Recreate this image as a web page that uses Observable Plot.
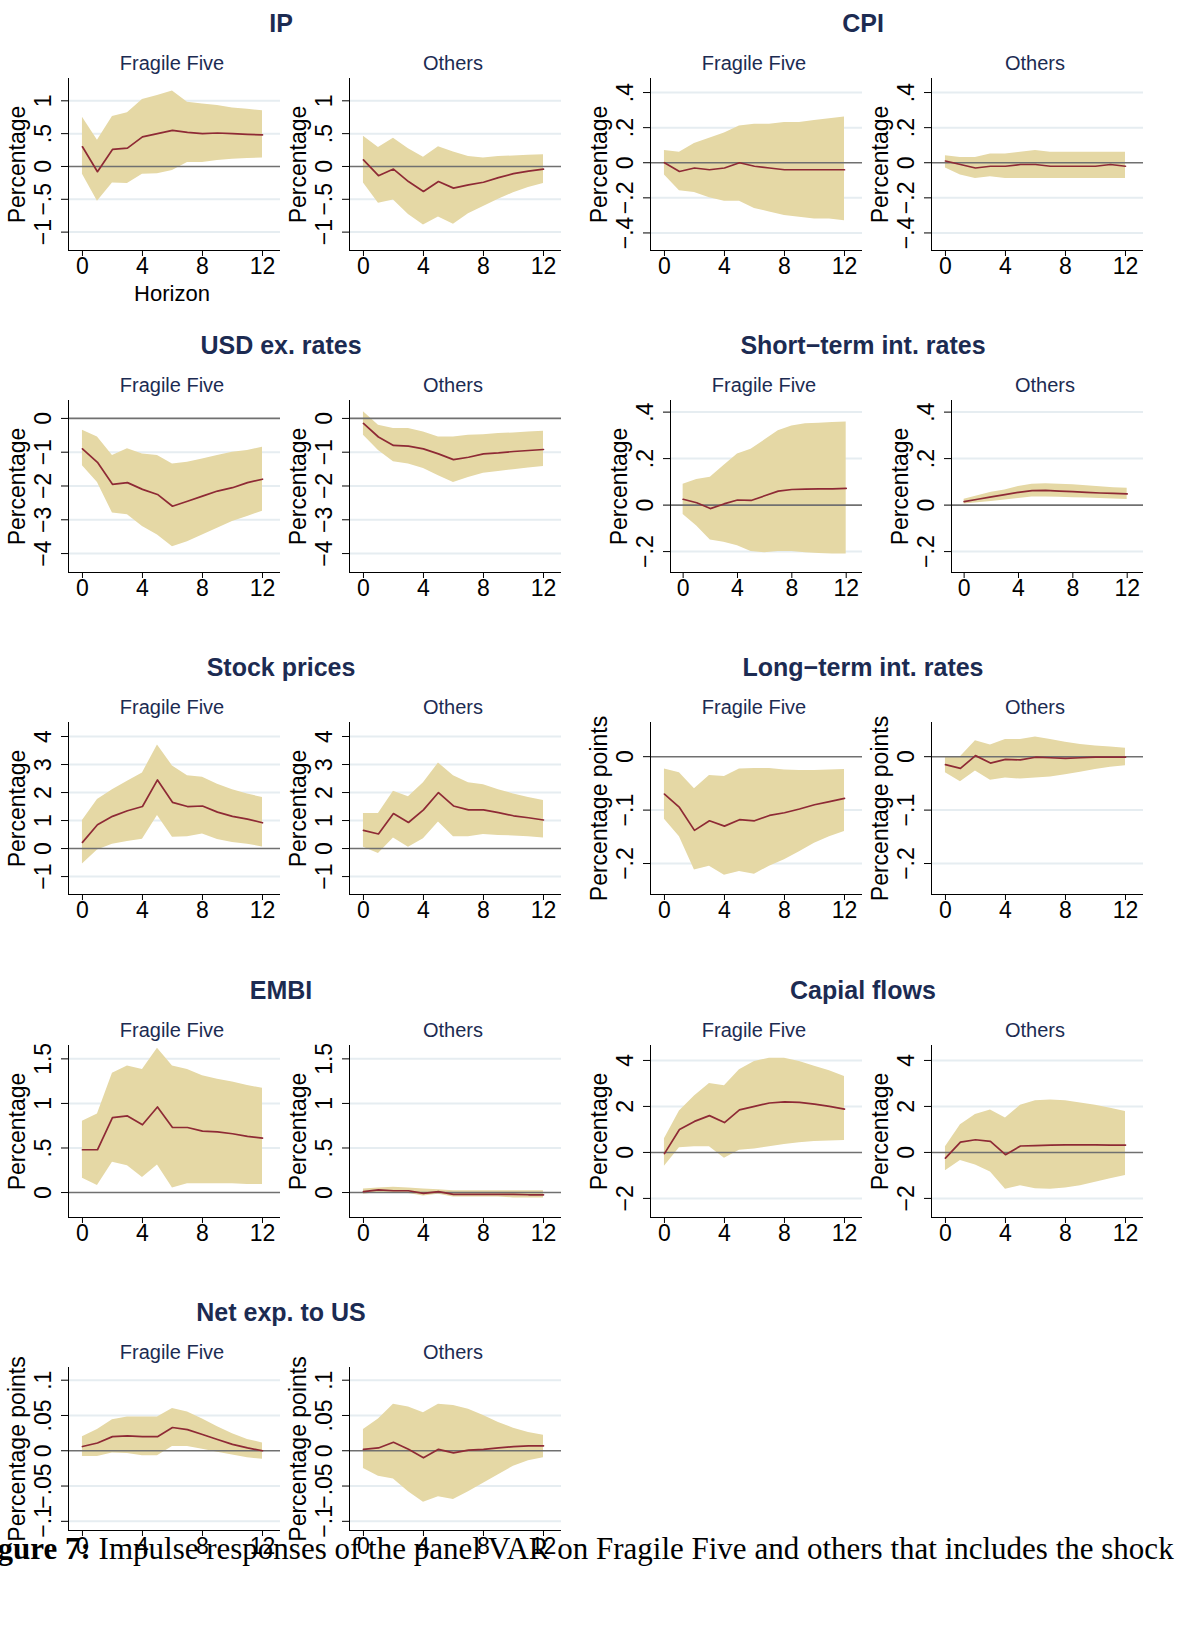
<!DOCTYPE html>
<html><head><meta charset="utf-8">
<script src="https://cdn.jsdelivr.net/npm/d3@7"></script>
<script src="https://cdn.jsdelivr.net/npm/@observablehq/plot@0.6"></script>
<style>
body{margin:0;background:#fff;width:1195px;height:1647px;overflow:hidden;position:relative;font-family:"Liberation Sans",Arial,sans-serif}
.t{position:absolute;font-family:"Liberation Sans Narrow","Liberation Sans",Arial,sans-serif;font-weight:bold;font-size:25px;color:#1c2b52;transform:translateX(-50%);white-space:nowrap}
.s{position:absolute;font-family:"Liberation Sans Narrow","Liberation Sans",Arial,sans-serif;font-size:20px;color:#1c2b52;transform:translateX(-50%);white-space:nowrap}
.p{position:absolute}
#cap{position:absolute;left:-30px;top:1531px;font-family:"Liberation Serif","DejaVu Serif",serif;font-size:31px;white-space:nowrap;color:#000}
</style></head><body>
<script>
const horizon = d3.range(13);
const ipFF = {irf:[0.3,-0.08,0.26,0.28,0.45,0.5,0.55,0.52,0.5,0.51,0.5,0.49,0.48],
 hi:[0.75,0.4,0.76,0.82,1.02,1.08,1.15,0.98,0.95,0.93,0.89,0.87,0.85],
 lo:[-0.12,-0.53,-0.25,-0.26,-0.12,-0.11,-0.06,0.06,0.06,0.09,0.11,0.12,0.13]};
const ipOT = {irf:[0.1,-0.14,-0.04,-0.23,-0.38,-0.23,-0.33,-0.28,-0.24,-0.17,-0.11,-0.07,-0.04],
 hi:[0.46,0.29,0.43,0.27,0.14,0.3,0.22,0.15,0.13,0.15,0.16,0.17,0.18],
 lo:[-0.25,-0.56,-0.51,-0.73,-0.89,-0.77,-0.88,-0.72,-0.61,-0.5,-0.4,-0.32,-0.26]};
const cpiFF = {irf:[0.0,-0.05,-0.03,-0.04,-0.03,0.0,-0.02,-0.03,-0.04,-0.04,-0.04,-0.04,-0.04],
 hi:[0.07,0.06,0.11,0.14,0.17,0.21,0.22,0.22,0.23,0.23,0.24,0.25,0.26],
 lo:[-0.07,-0.16,-0.17,-0.2,-0.22,-0.22,-0.26,-0.28,-0.3,-0.31,-0.32,-0.32,-0.33]};
const cpiOT = {irf:[0.01,-0.01,-0.03,-0.02,-0.02,-0.01,-0.01,-0.02,-0.02,-0.02,-0.02,-0.01,-0.02],
 hi:[0.04,0.03,0.03,0.05,0.05,0.06,0.07,0.06,0.06,0.06,0.06,0.06,0.06],
 lo:[-0.03,-0.07,-0.09,-0.08,-0.09,-0.09,-0.09,-0.09,-0.09,-0.09,-0.09,-0.09,-0.09]};
const usdFF = {irf:[-0.9,-1.3,-1.95,-1.9,-2.1,-2.25,-2.6,-2.45,-2.3,-2.15,-2.05,-1.9,-1.8],
 hi:[-0.35,-0.55,-1.1,-0.9,-1.05,-1.1,-1.35,-1.3,-1.2,-1.1,-1.0,-0.95,-0.85],
 lo:[-1.4,-1.9,-2.8,-2.85,-3.2,-3.45,-3.8,-3.65,-3.45,-3.25,-3.05,-2.9,-2.75]};
const usdOT = {irf:[-0.15,-0.55,-0.8,-0.82,-0.9,-1.05,-1.22,-1.15,-1.05,-1.02,-0.98,-0.95,-0.92],
 hi:[0.2,-0.2,-0.3,-0.3,-0.4,-0.55,-0.55,-0.5,-0.48,-0.45,-0.43,-0.4,-0.38],
 lo:[-0.5,-0.95,-1.28,-1.35,-1.48,-1.7,-1.9,-1.75,-1.62,-1.57,-1.52,-1.47,-1.42]};
const stFF = {irf:[0.025,0.01,-0.015,0.005,0.022,0.02,0.04,0.06,0.067,0.069,0.07,0.07,0.072],
 hi:[0.09,0.11,0.12,0.17,0.22,0.24,0.28,0.32,0.34,0.35,0.352,0.355,0.357],
 lo:[-0.04,-0.09,-0.15,-0.16,-0.175,-0.2,-0.205,-0.2,-0.2,-0.205,-0.208,-0.21,-0.21]};
const stOT = {irf:[0.015,0.025,0.035,0.045,0.055,0.062,0.063,0.06,0.058,0.055,0.052,0.05,0.048],
 hi:[0.025,0.04,0.055,0.065,0.08,0.09,0.092,0.09,0.087,0.083,0.079,0.075,0.072],
 lo:[0.005,0.01,0.015,0.022,0.028,0.035,0.035,0.034,0.032,0.03,0.028,0.026,0.024]};
const skFF = {irf:[0.22,0.85,1.15,1.35,1.5,2.45,1.65,1.5,1.52,1.3,1.15,1.05,0.92],
 hi:[1.0,1.75,2.1,2.4,2.7,3.7,2.95,2.6,2.55,2.3,2.1,1.95,1.82],
 lo:[-0.55,-0.05,0.15,0.25,0.33,1.18,0.4,0.42,0.52,0.32,0.22,0.15,0.06]};
const skOT = {irf:[0.65,0.52,1.25,0.93,1.38,2.0,1.52,1.38,1.38,1.28,1.17,1.1,1.02],
 hi:[1.25,1.25,2.05,1.85,2.35,3.05,2.6,2.35,2.28,2.1,1.95,1.82,1.72],
 lo:[0.05,-0.18,0.38,0.05,0.35,0.95,0.42,0.42,0.5,0.47,0.45,0.42,0.38]};
const ltFF = {irf:[-0.07,-0.095,-0.138,-0.12,-0.13,-0.118,-0.12,-0.11,-0.105,-0.098,-0.09,-0.084,-0.078],
 hi:[-0.023,-0.03,-0.06,-0.035,-0.037,-0.023,-0.022,-0.022,-0.025,-0.026,-0.026,-0.025,-0.024],
 lo:[-0.117,-0.15,-0.212,-0.205,-0.222,-0.215,-0.22,-0.205,-0.193,-0.178,-0.162,-0.15,-0.14]};
const ltOT = {irf:[-0.015,-0.022,0.002,-0.012,-0.005,-0.006,-0.001,-0.002,-0.003,-0.002,-0.001,-0.001,-0.001],
 hi:[0.0,0.0,0.03,0.022,0.032,0.032,0.037,0.032,0.027,0.023,0.02,0.018,0.016],
 lo:[-0.03,-0.047,-0.027,-0.044,-0.04,-0.042,-0.04,-0.038,-0.034,-0.029,-0.024,-0.02,-0.017]};
const emFF = {irf:[0.48,0.48,0.84,0.86,0.76,0.96,0.73,0.73,0.69,0.68,0.66,0.63,0.61],
 hi:[0.8,0.88,1.34,1.42,1.38,1.62,1.42,1.38,1.31,1.27,1.24,1.2,1.17],
 lo:[0.16,0.08,0.34,0.3,0.17,0.31,0.05,0.1,0.1,0.1,0.1,0.09,0.09]};
const emOT = {irf:[0.01,0.03,0.02,0.02,-0.01,0.01,-0.02,-0.02,-0.02,-0.02,-0.02,-0.025,-0.025],
 hi:[0.04,0.05,0.06,0.05,0.04,0.03,0.02,0.02,0.02,0.02,0.02,0.02,0.02],
 lo:[-0.02,0.0,0.0,-0.01,-0.04,-0.02,-0.05,-0.05,-0.05,-0.05,-0.06,-0.06,-0.06]};
const cfFF = {irf:[-0.05,1.0,1.35,1.6,1.3,1.85,2.0,2.15,2.2,2.18,2.1,2.0,1.88],
 hi:[0.6,1.8,2.45,3.0,2.9,3.6,3.95,4.1,4.1,3.95,3.75,3.55,3.3],
 lo:[-0.6,0.2,0.25,0.25,-0.25,0.1,0.15,0.25,0.35,0.42,0.48,0.5,0.52]};
const cfOT = {irf:[-0.25,0.45,0.55,0.48,-0.1,0.28,0.3,0.32,0.33,0.33,0.33,0.32,0.32],
 hi:[0.25,1.2,1.65,1.85,1.5,2.05,2.25,2.28,2.25,2.15,2.05,1.92,1.78],
 lo:[-0.8,-0.35,-0.55,-0.85,-1.6,-1.45,-1.58,-1.6,-1.55,-1.45,-1.3,-1.15,-1.0]};
const neFF = {irf:[0.006,0.011,0.02,0.021,0.02,0.02,0.033,0.03,0.023,0.016,0.009,0.004,0.0],
 hi:[0.02,0.03,0.044,0.048,0.048,0.048,0.06,0.055,0.045,0.034,0.024,0.016,0.011],
 lo:[-0.008,-0.008,-0.003,-0.004,-0.007,-0.007,0.006,0.006,0.002,-0.002,-0.006,-0.01,-0.012]};
const neOT = {irf:[0.002,0.004,0.012,0.002,-0.01,0.002,-0.003,0.001,0.002,0.004,0.006,0.007,0.007],
 hi:[0.03,0.045,0.066,0.062,0.054,0.066,0.064,0.059,0.05,0.04,0.032,0.026,0.022],
 lo:[-0.025,-0.036,-0.04,-0.058,-0.073,-0.065,-0.069,-0.058,-0.046,-0.034,-0.022,-0.014,-0.01]};

const xTicks = [0,4,8,12];
const groups = [
 {title:"IP", ff:ipFF, ot:ipOT, dom:[-1.28,1.34], ticks:[-1,-0.5,0,0.5,1], lab:"Percentage"},
 {title:"CPI", ff:cpiFF, ot:cpiOT, dom:[-0.5,0.48], ticks:[-0.4,-0.2,0,0.2,0.4], lab:"Percentage"},
 {title:"USD ex. rates", ff:usdFF, ot:usdOT, dom:[-4.56,0.53], ticks:[-4,-3,-2,-1,0], lab:"Percentage"},
 {title:"Short\u2212term int. rates", ff:stFF, ot:stOT, dom:[-0.29,0.45], ticks:[-0.2,0,0.2,0.4], lab:"Percentage", shift:20},
 {title:"Stock prices", ff:skFF, ot:skOT, dom:[-1.64,4.5], ticks:[-1,0,1,2,3,4], lab:"Percentage"},
 {title:"Long\u2212term int. rates", ff:ltFF, ot:ltOT, dom:[-0.258,0.064], ticks:[-0.2,-0.1,0], lab:"Percentage points"},
 {title:"EMBI", ff:emFF, ot:emOT, dom:[-0.28,1.65], ticks:[0,0.5,1,1.5], lab:"Percentage"},
 {title:"Capial flows", ff:cfFF, ot:cfOT, dom:[-2.83,4.65], ticks:[-2,0,2,4], lab:"Percentage"},
 {title:"Net exp. to US", ff:neFF, ot:neOT, dom:[-0.113,0.118], ticks:[-0.1,-0.05,0,0.05,0.1], lab:"Percentage points", cut:9}
];
const fmt = v => { if (v===0) return "0"; let s = String(Math.abs(+v.toFixed(3))).replace(/^0\./,"."); return (v<0?"\u2212":"")+s; };

function panel(d, g, shift){
  const rows = horizon.map(h=>({h, irf:d.irf[h], lo:d.lo[h], hi:d.hi[h]}));
  return Plot.plot({
    width: 280 - shift, height: 222 - (g.cut||0), marginLeft: 68, marginRight: 0, marginTop: 8, marginBottom: 42,
    style:{fontFamily:'"Liberation Sans",Arial,sans-serif', fontSize:"23px", color:"#000", background:"transparent", overflow:"visible"},
    x:{domain:[-0.93,13.2], ticks:xTicks},
    y:{domain:g.dom},
    marks:[
      Plot.ruleY(g.ticks.filter(t=>t!==0), {stroke:"#e6edf1", strokeWidth:2}),
      Plot.areaY(rows, {x:"h", y1:"lo", y2:"hi", fill:"#e5d8a5"}),
      Plot.ruleY([0], {stroke:"#707070", strokeWidth:1.6}),
      Plot.line(rows, {x:"h", y:"irf", stroke:"#8e2a35", strokeWidth:1.7}),
      Plot.axisX({ticks:xTicks, tickSize:6, tickPadding:1, fontSize:23, label:null}),
      Plot.ruleX([-0.93], {stroke:"#000", strokeWidth:1}),
      Plot.ruleY([g.dom[0]], {stroke:"#000", strokeWidth:1}),
      Plot.axisY({ticks:g.ticks, tickSize:7, tickFormat:()=>"", label:null}),
      Plot.text(g.ticks, {y:d=>d, text:fmt, frameAnchor:"left", dx:-25, rotate:-90, textAnchor:"middle", lineAnchor:"middle", fontSize:23, fill:"#000"}),
      Plot.text([g.lab], {text:d=>d, frameAnchor:"left", dx:-51, rotate:-90, textAnchor:"middle", lineAnchor:"middle", fontSize:23, fill:"#000"})
    ]
  });
}
const rowTop = [0,322,644,967,1289];
const groupLeft = [0,582];
groups.forEach((g,i)=>{
  const r = Math.floor(i/2), c = i%2;
  const top = rowTop[r], left = groupLeft[c];
  const shift = g.shift||0;
  const t = document.createElement("div"); t.className="t"; t.textContent=g.title;
  t.style.left=(left+281)+"px"; t.style.top=(top+9)+"px"; document.body.appendChild(t);
  [[g.ff,"Fragile Five",0],[g.ot,"Others",281]].forEach(([d,name,dx])=>{
    const s=document.createElement("div"); s.className="s"; s.textContent=name;
    s.style.left=(left+dx+172+shift/2)+"px"; s.style.top=(top+52)+"px"; document.body.appendChild(s);
    const w=document.createElement("div"); w.className="p";
    w.style.left=(left+dx+shift)+"px"; w.style.top=(top+70)+"px";
    w.appendChild(panel(d,g,shift)); document.body.appendChild(w);
  });
});
const hz=document.createElement("div"); hz.className="s"; hz.style.fontFamily='"Liberation Sans",Arial,sans-serif';
hz.style.fontSize="22px"; hz.style.color="#000"; hz.textContent="Horizon"; hz.style.left="172px"; hz.style.top="281px";
document.body.appendChild(hz);
const cap=document.createElement("div"); cap.id="cap";
cap.innerHTML="<b>Figure 7:</b> Impulse responses of the panel VAR on Fragile Five and others that includes the shock";
document.body.appendChild(cap);
</script>
</body></html>
